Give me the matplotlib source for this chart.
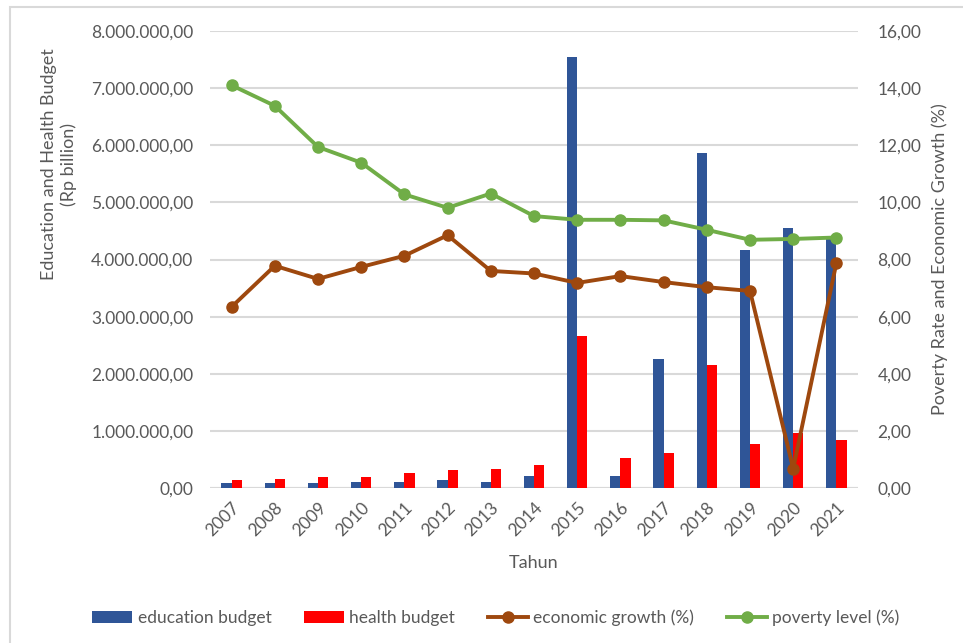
import numpy as np
import matplotlib
matplotlib.use("Agg")
import matplotlib.pyplot as plt
from matplotlib.ticker import FuncFormatter, MultipleLocator
from matplotlib.patches import Rectangle

# data
years = ['2007', '2008', '2009', '2010', '2011', '2012', '2013', '2014',
         '2015', '2016', '2017', '2018', '2019', '2020', '2021']
education_budget = [80000, 87000, 80000, 100000, 100000, 134000, 110000, 215000,
                    7540000, 215000, 2250000, 5860000, 4160000, 4560000, 4380000]
health_budget = [134000, 150000, 187000, 200000, 257000, 320000, 340000, 400000,
                 2660000, 520000, 610000, 2150000, 765000, 960000, 835000]
economic_growth = [6.34, 7.78, 7.32, 7.74, 8.13, 8.85, 7.60, 7.51,
                   7.18, 7.42, 7.21, 7.03, 6.90, 0.68, 7.88]
poverty_level = [14.10, 13.38, 11.94, 11.39, 10.28, 9.81, 10.31, 9.52,
                 9.39, 9.39, 9.37, 9.04, 8.69, 8.72, 8.77]

plt.rcParams['font.family'] = ['Lato', 'DejaVu Sans']
text_col = '#595959'
grid_col = '#d9d9d9'

fig = plt.figure(figsize=(9.63, 6.43), dpi=100)
# chart frame: only the left and top edges fall inside the picture
fig.patches.append(Rectangle((10 / 963, -0.05), 1.0, 1.05 - 7 / 643,
                             transform=fig.transFigure, fill=False,
                             edgecolor=grid_col, linewidth=1.5))

ax = fig.add_axes([210 / 963, 1 - 488 / 643, 648 / 963, 457 / 643])
ax2 = ax.twinx()

x = np.arange(len(years))
w = 0.235
ax.bar(x - w / 2, education_budget, w, color='#2F5597', label='education budget', zorder=2)
ax.bar(x + w / 2, health_budget, w, color='#FF0000', label='health budget', zorder=2)

ax2.plot(x, economic_growth, color='#9E480E', lw=2.8, marker='o', ms=8,
         label='economic growth (%)')
ax2.plot(x, poverty_level, color='#70AD47', lw=2.8, marker='o', ms=8,
         label='poverty level (%)')

ax.set_xlim(-0.5, len(years) - 0.5)
ax.set_ylim(0, 8000000)
ax2.set_ylim(0, 16)
ax.yaxis.set_major_locator(MultipleLocator(1000000))
ax2.yaxis.set_major_locator(MultipleLocator(2))


def fmt_left(v, pos):
    return f"{v:,.2f}".replace(',', 'X').replace('.', ',').replace('X', '.')


def fmt_right(v, pos):
    return f"{v:.2f}".replace('.', ',')


ax.yaxis.set_major_formatter(FuncFormatter(fmt_left))
ax2.yaxis.set_major_formatter(FuncFormatter(fmt_right))

ax.set_xticks(x)
ax.set_xticklabels(years, rotation=45, ha='right', rotation_mode='anchor')

for a in (ax, ax2):
    for s in a.spines.values():
        s.set_visible(False)
    a.tick_params(length=0, colors=text_col, labelsize=12.5)
ax.tick_params(axis='y', pad=12)
ax.tick_params(axis='x', pad=8)
ax2.tick_params(axis='y', pad=14)

ax.grid(axis='y', color=grid_col, lw=1.5, zorder=0)
ax.set_axisbelow(True)
ax.axhline(0, color=grid_col, lw=1.5, zorder=1)

ax.set_xlabel('Tahun', color=text_col, fontsize=13)
ax.xaxis.set_label_coords(0.5, -(555 - 488) / 457)
ax.set_ylabel('Education and Health Budget\n(Rp billion)', color=text_col,
              fontsize=13, va='center')
ax.yaxis.set_label_coords(-(210 - 59) / 648, (488 - 164) / 457)
ax2.set_ylabel('Poverty Rate and Economic Growth (%)', color=text_col,
               fontsize=13, va='center')
ax2.yaxis.set_label_coords((940 - 210) / 648, (488 - 259) / 457)

h1, l1 = ax.get_legend_handles_labels()
h2, l2 = ax2.get_legend_handles_labels()
fig.legend(h1 + h2, l1 + l2, loc='center', bbox_to_anchor=(496 / 963, 1 - 618 / 643),
           ncol=4, frameon=False, fontsize=12.5, labelcolor=text_col,
           handlelength=2.3, handletextpad=0.3, columnspacing=1.9)

fig.savefig('out.png', dpi=100)
